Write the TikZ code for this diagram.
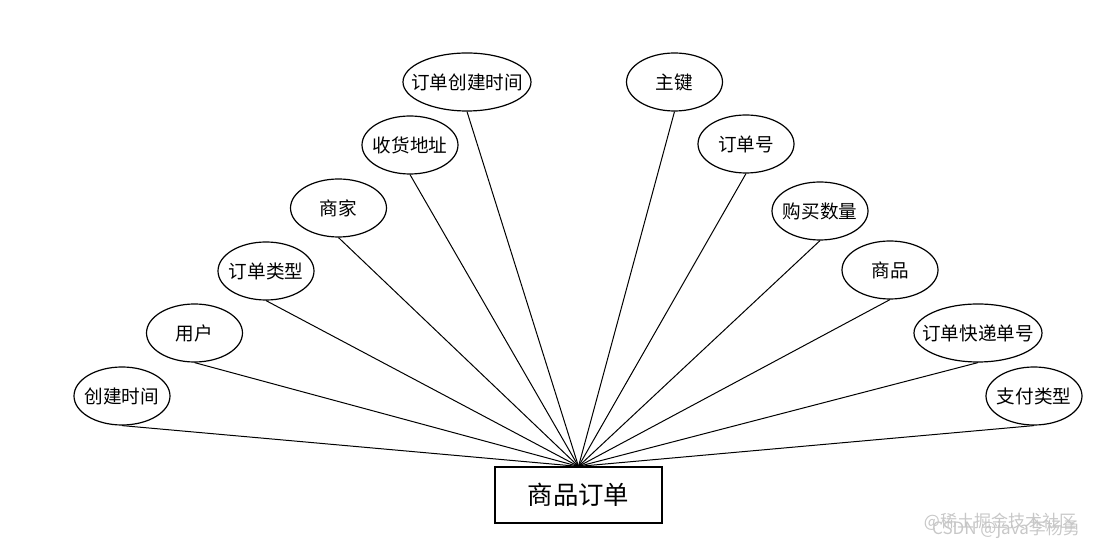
\documentclass[tikz,border=0pt]{standalone}
\usepackage{fontspec}
\setmainfont{Noto Sans CJK SC}
\usetikzlibrary{shapes.geometric}

\tikzset{
  attr/.style={draw,ellipse,line width=0.6pt,minimum width=48pt,minimum height=29pt,inner xsep=-6pt,inner ysep=0pt,font=\fontsize{9.3}{9.3}\selectfont},
  wideattr/.style={attr,minimum width=64pt},
  entity/.style={draw,rectangle,line width=0.6pt,minimum width=83.5pt,minimum height=28pt,inner sep=0pt,font=\fontsize{12.7}{12.7}\selectfont},
  link/.style={black,line width=0.5pt},
  mark text/.style={text=black!22,font=\fontsize{8.5}{8.5}\selectfont}
}

\begin{document}
\begin{tikzpicture}[x=0.5pt,y=-0.5pt]
    \useasboundingbox (0,0) rectangle (1100,550);
    \node[entity](order) at (578.5,495){商品订单};
    % left side
    \node[attr](cjsj) at (122,396){创建时间};
    \node[attr](yh) at (194.5,333){用户};
    \node[attr](ddlx) at (266,271){订单类型};
    \node[attr](sj) at (338.5,208){商家};
    \node[attr](shdz) at (410,145){收货地址};
    \node[wideattr](ddcjsj) at (467,82){订单创建时间};
    % right side
    \node[attr](zj) at (674.5,82){主键};
    \node[attr](ddh) at (746,144){订单号};
    \node[attr](gmsl) at (820,211){购买数量};
    \node[attr](sp) at (890,270){商品};
    \node[wideattr](ddkddh) at (978,333){订单快递单号};
    \node[attr](zflx) at (1034,396){支付类型};
    \draw[link](cjsj.south) -- (order.north);
    \draw[link](yh.south) -- (order.north);
    \draw[link](ddlx.south) -- (order.north);
    \draw[link](sj.south) -- (order.north);
    \draw[link](shdz.south) -- (order.north);
    \draw[link](ddcjsj.south) -- (order.north);
    \draw[link](zj.south) -- (order.north);
    \draw[link](ddh.south) -- (order.north);
    \draw[link](gmsl.south) -- (order.north);
    \draw[link](sp.south) -- (order.north);
    \draw[link](ddkddh.south) -- (order.north);
    \draw[link](zflx.south) -- (order.north);
    % watermarks
    \node[mark text](wm1) at (1000,522){@稀土掘金技术社区};
    \node[mark text](wm2) at (1006,529){CSDN @java李杨勇};
\end{tikzpicture}
\end{document}
